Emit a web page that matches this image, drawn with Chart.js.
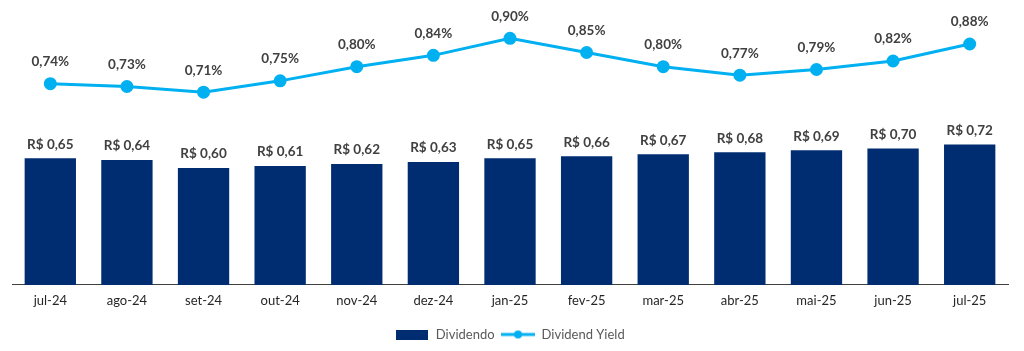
<!DOCTYPE html>
<html>
<head>
<meta charset="utf-8">
<script src="https://cdn.jsdelivr.net/npm/chart.js@4"></script>
<style>
  html, body { margin: 0; padding: 0; background: #fff; }
  #wrap { width: 1024px; height: 351px; }
</style>
</head>
<body>
<div id="wrap"><canvas id="chart" width="1024" height="351"></canvas></div>
<script>
// chart data
var months = ['jul-24', 'ago-24', 'set-24', 'out-24', 'nov-24', 'dez-24', 'jan-25',
              'fev-25', 'mar-25', 'abr-25', 'mai-25', 'jun-25', 'jul-25'];
var dividendo = [0.65, 0.64, 0.60, 0.61, 0.62, 0.63, 0.65, 0.66, 0.67, 0.68, 0.69, 0.70, 0.72];
var dividendYield = [0.74, 0.73, 0.71, 0.75, 0.80, 0.84, 0.90, 0.85, 0.80, 0.77, 0.79, 0.82, 0.88];

var navy = '#002D72';
var cyan = '#00B0F0';
var fontName = 'Lato, "Liberation Sans", sans-serif';

function fmt(v) {
  return v.toFixed(2).replace('.', ',');
}

// small legend icons
function barIcon() {
  var c = document.createElement('canvas');
  c.width = 32; c.height = 10;
  var g = c.getContext('2d');
  g.fillStyle = navy;
  g.fillRect(0, 0, 32, 10);
  return c;
}
function lineIcon() {
  var c = document.createElement('canvas');
  c.width = 34; c.height = 10;
  var g = c.getContext('2d');
  g.strokeStyle = cyan;
  g.lineWidth = 3;
  g.beginPath(); g.moveTo(0, 5); g.lineTo(34, 5); g.stroke();
  g.fillStyle = cyan;
  g.beginPath(); g.arc(17, 5, 4, 0, Math.PI * 2); g.fill();
  return c;
}

// draw value labels above bars and points
var valueLabels = {
  id: 'valueLabels',
  afterDatasetsDraw: function (chart) {
    var ctx = chart.ctx;
    ctx.save();
    ctx.fillStyle = '#404040';
    ctx.font = 'bold 13.5px ' + fontName;
    ctx.textAlign = 'center';
    ctx.textBaseline = 'middle';
    chart.getDatasetMeta(0).data.forEach(function (el, i) {
      ctx.fillText('R$ ' + fmt(dividendo[i]), el.x, el.y - 14);
    });
    chart.getDatasetMeta(1).data.forEach(function (el, i) {
      ctx.fillText(fmt(dividendYield[i]) + '%', el.x, el.y - 22);
    });
    ctx.restore();
  }
};

new Chart(document.getElementById('chart'), {
  data: {
    labels: months,
    datasets: [{
      type: 'bar',
      label: 'Dividendo',
      data: dividendo,
      backgroundColor: navy,
      yAxisID: 'yBar',
      barPercentage: 0.67,
      categoryPercentage: 1,
      order: 2
    }, {
      type: 'line',
      label: 'Dividend Yield',
      data: dividendYield,
      borderColor: cyan,
      backgroundColor: cyan,
      borderWidth: 3,
      pointRadius: 5,
      pointHoverRadius: 5,
      yAxisID: 'yLine',
      tension: 0,
      order: 1
    }]
  },
  options: {
    responsive: false,
    animation: false,
    layout: { padding: { left: 12, right: 16, top: 10, bottom: 0 } },
    plugins: {
      tooltip: { enabled: false },
      legend: {
        position: 'bottom',
        labels: {
          color: '#595959',
          font: { family: fontName, size: 13 },
          usePointStyle: true,
          pointStyleWidth: 34,
          padding: 6.5,
          generateLabels: function (chart) {
            return chart.data.datasets.map(function (ds, i) {
              return {
                text: ds.label,
                pointStyle: i === 0 ? barIcon() : lineIcon(),
                fontColor: '#595959',
                datasetIndex: i,
                hidden: false,
                lineWidth: 0
              };
            });
          }
        }
      }
    },
    scales: {
      x: {
        offset: true,
        grid: { display: false },
        border: { display: true, color: '#404040', width: 1 },
        ticks: { color: '#262626', font: { family: fontName, size: 13 }, padding: 0 },
        afterFit: function (axis) { axis.height += 13; }
      },
      yBar: {
        display: false,
        min: 0,
        max: 1.41
      },
      yLine: {
        display: false,
        min: 0.03,
        max: 1.0
      }
    }
  },
  plugins: [valueLabels]
});
</script>
</body>
</html>
